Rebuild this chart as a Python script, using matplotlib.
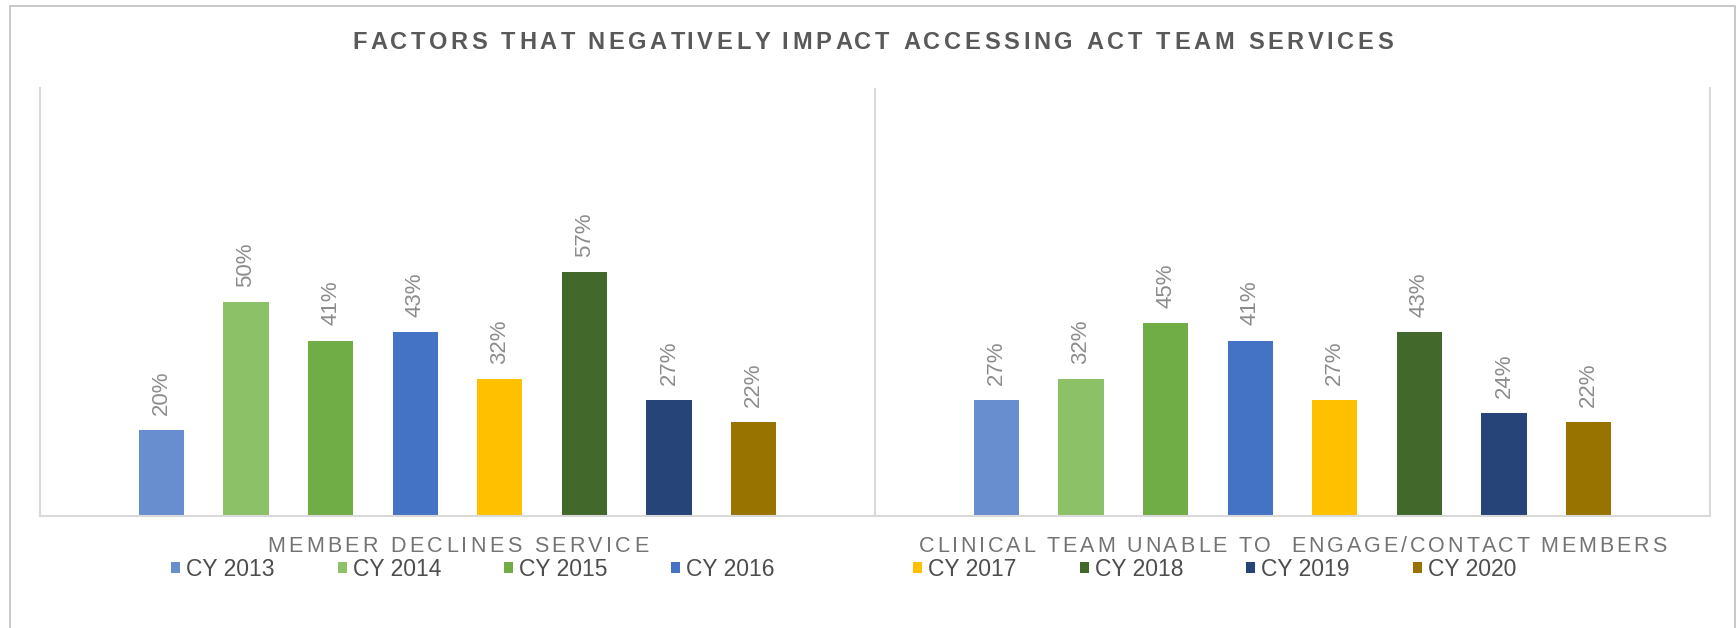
import numpy as np
import matplotlib.pyplot as plt
from matplotlib.patches import Patch, Rectangle

# chart data
categories = ["MEMBER DECLINES SERVICE", "CLINICAL TEAM UNABLE TO  ENGAGE/CONTACT MEMBERS"]
years = ["CY 2013", "CY 2014", "CY 2015", "CY 2016", "CY 2017", "CY 2018", "CY 2019", "CY 2020"]
member_declines = [20, 50, 41, 43, 32, 57, 27, 22]
unable_to_engage = [27, 32, 45, 41, 27, 43, 24, 22]
colors = ["#698ed0", "#8cc168", "#70ad47", "#4472c4", "#ffc000", "#43682b", "#264478", "#997300"]

TITLE = "FACTORS THAT NEGATIVELY IMPACT ACCESSING ACT TEAM SERVICES"

W, H = 1736, 628
plt.rcParams['font.family'] = ['Liberation Sans', 'DejaVu Sans']


def spaced_text(fig, s, xc, y, width, **kw):
    """Draw s centred on xc (pixels) with letter spacing so it spans `width` pixels."""
    r = fig.canvas.get_renderer()

    def w(txt):
        t = fig.text(0, 0, txt, **kw)
        ext = t.get_window_extent(r).width
        t.remove()
        return ext

    bar_w = w("|")
    pos = [w(s[:i] + "|") - bar_w for i in range(len(s))]
    total = w(s)
    extra = (width - total) / (len(s) - 1)
    x0 = xc - width / 2
    for i, ch in enumerate(s):
        if ch == " ":
            continue
        fig.text((x0 + pos[i] + i * extra) / W, 1 - y / H, ch, ha="left", va="baseline", **kw)


fig = plt.figure(figsize=(W / 100, H / 100), dpi=100)

# outer chart frame
fig.patches.append(Rectangle((10 / W, -0.1), 1725 / W, 1.1 - 6 / H, transform=fig.transFigure,
                             fill=False, edgecolor="#bfbfbf", lw=1.2))

ax = fig.add_axes([40 / W, 1 - 516 / H, 1670 / W, 428 / H])
x = np.arange(len(categories))
pitch, bw = 0.1013, 0.054
handles = []
for j, year in enumerate(years):
    vals = [member_declines[j], unable_to_engage[j]]
    bars = ax.bar(x + (j - 3.5) * pitch, vals, bw, color=colors[j], label=year)
    handles.append(Patch(facecolor=colors[j], edgecolor="none"))
    for b, v in zip(bars, vals):
        ax.annotate(f"{v}%", xy=(b.get_x() + b.get_width() / 2, v), xytext=(0, 11),
                    textcoords="offset points", rotation=90, ha="center", va="bottom",
                    fontsize=16, color="#8c8c8c")

ax.set_xlim(-0.5, 1.5)
ax.set_ylim(0, 100)
ax.set_xticks([])
ax.set_yticks([])
ax.spines["top"].set_visible(False)
for sp in ["left", "right", "bottom"]:
    ax.spines[sp].set_color("#d9d9d9")
    ax.spines[sp].set_linewidth(1.5)
ax.axvline(0.5, color="#d9d9d9", lw=1.5)

# title and category labels with letter spacing
spaced_text(fig, TITLE, (352 + 1393) / 2, 49, 1041, fontsize=17, fontweight="bold", color="#595959")
label_widths = [381, 748]
for i, cat in enumerate(categories):
    xc = ax.transData.transform((x[i], 0))[0]
    spaced_text(fig, cat, xc, 552, label_widths[i], fontsize=15.5, color="#737373")

# legend split in two halves like the original
for start, left in [(0, 171), (4, 913)]:
    fig.legend(handles[start:start + 4], years[start:start + 4], loc="center left",
               bbox_to_anchor=(left / W, 1 - 569 / H), ncol=4, frameon=False, fontsize=16.5,
               handlelength=0.4, handleheight=0.4, handletextpad=0.26, columnspacing=2.75,
               borderpad=0, borderaxespad=0, labelcolor="#4d4d4d")

plt.savefig("out.png", dpi=100)
